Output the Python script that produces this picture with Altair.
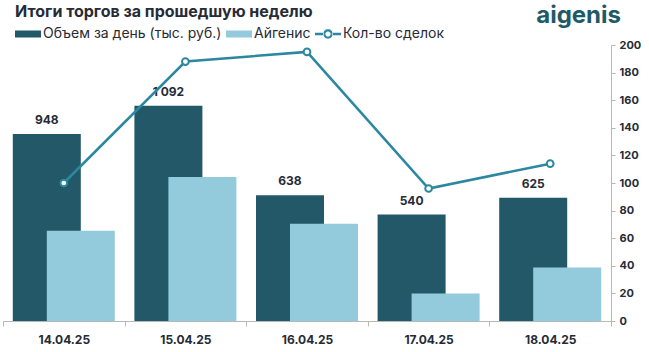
import altair as alt
import pandas as pd

dates = ["14.04.25", "15.04.25", "16.04.25", "17.04.25", "18.04.25"]
volume = [948, 1092, 638, 540, 625]
volume_labels = ["948", "1 092", "638", "540", "625"]
aigenis = [458, 731, 493, 140, 271]
deals = [100, 188, 195, 96, 114]
series_names = ["Объем за день (тыс. руб.)", "Айгенис", "Кол-во сделок"]
series_colors = ["#225868", "#94cbdc", "#2b88a0"]
left_domain = [0, 1400]
right_domain = [0, 200]
right_ticks = list(range(0, 201, 20))
title_text = "Итоги торгов за прошедшую неделю"
logo_text = ["aigenis"]

FONT = "Inter"
TEXT = "#262b36"
GRID = "#b8b8b8"

df = pd.DataFrame({"date": dates, "volume": volume, "vlabel": volume_labels,
                   "aig": aigenis, "deals": deals})
legend_df = pd.DataFrame({"s": series_names, "date": [dates[0]] * 3, "deals": [0] * 3})
logo_df = pd.DataFrame({"t": logo_text})

rect_path = "M-1,-0.27H1V0.27H-1Z"
line_path = ("M-1,-0.1H-0.3V0.1H-1Z M0.3,-0.1H1V0.1H0.3Z "
             "M0.36,0 A0.36,0.36 0 1,0 -0.36,0 A0.36,0.36 0 1,0 0.36,0 Z "
             "M0.2,0 A0.2,0.2 0 1,1 -0.2,0 A0.2,0.2 0 1,1 0.2,0 Z")

x = alt.X("date:N", sort=dates, title=None,
          scale=alt.Scale(paddingInner=0, paddingOuter=0),
          axis=alt.Axis(labelAngle=0, tickBand="extent", domainColor=GRID, tickColor=GRID,
                        tickSize=5, labelFont=FONT, labelFontSize=12, labelFontWeight="bold",
                        labelColor=TEXT, labelPadding=8))

base = alt.Chart(df)
lscale = alt.Scale(domain=left_domain, nice=False, zero=True)

dark = base.mark_bar(width=68, xOffset=-17, color=series_colors[0]).encode(
    x=x, y=alt.Y("volume:Q", scale=lscale, axis=None))
light = base.mark_bar(width=68, xOffset=17, color=series_colors[1]).encode(
    x=x, y=alt.Y("aig:Q", scale=lscale, axis=None))
labels = base.mark_text(xOffset=-17, dy=-7, baseline="bottom", font=FONT, fontSize=12,
                        fontWeight="bold", color=TEXT).encode(
    x=x, y=alt.Y("volume:Q", scale=lscale, axis=None), text="vlabel:N")

bars = alt.layer(dark, light, labels)

rscale = alt.Scale(domain=right_domain, nice=False)
raxis = alt.Axis(orient="right", values=right_ticks, domainColor=GRID, tickColor=GRID,
                 tickSize=4, grid=False, labelFont=FONT, labelFontSize=11,
                 labelFontWeight="bold", labelColor=TEXT, labelPadding=4,
                 labelOverlap=False)
yline = alt.Y("deals:Q", title=None, scale=rscale, axis=raxis)

line = base.mark_line(color=series_colors[2], strokeWidth=2.5).encode(x=x, y=yline)
pts = base.mark_point(filled=True, fill="white", stroke=series_colors[2], strokeWidth=2,
                      size=45, opacity=1).encode(x=x, y=yline)

leg = alt.Legend(orient="none", legendX=12, legendY=-24, direction="horizontal", title=None,
                 symbolSize=676, symbolStrokeWidth=0, symbolOpacity=1,
                 labelFont=FONT, labelFontSize=14, labelColor=TEXT, labelOffset=2,
                 columnPadding=4, labelLimit=400)
legend_layer = alt.Chart(legend_df).mark_point(filled=True, opacity=0).encode(
    x=alt.X("date:N", sort=dates),
    y=yline,
    color=alt.Color("s:N", scale=alt.Scale(domain=series_names, range=series_colors), legend=leg),
    shape=alt.Shape("s:N", scale=alt.Scale(domain=series_names,
                                           range=[rect_path, rect_path, line_path]), legend=leg),
)

lines = alt.layer(line, pts, legend_layer)

logo = alt.Chart(logo_df).mark_text(align="right", baseline="alphabetic", font=FONT, fontSize=24,
                                    fontWeight="bold", color="#1e5a68").encode(
    text="t:N", x=alt.value(618), y=alt.value(-22))

chart = alt.layer(bars, lines, logo).resolve_scale(y="independent").properties(
    width=608, height=276,
    title=alt.Title(title_text, anchor="start", frame="group", font=FONT, fontSize=16,
                    fontWeight="bold", color=TEXT, offset=0, dx=12, dy=16),
    autosize=alt.AutoSizeParams(type="none"),
    padding={"left": 3, "top": 45, "right": 38, "bottom": 31},
).configure_view(stroke=None)

chart.save("out.html", embed_options={"renderer": "svg", "actions": False})
